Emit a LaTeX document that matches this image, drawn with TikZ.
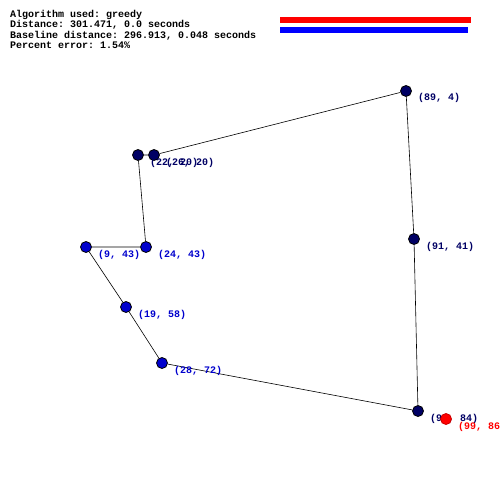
\documentclass[tikz,border=0pt]{standalone}
\usepackage{fontspec}
\setmonofont{Liberation Mono}
\usepackage{tikz}
\usepackage{xcolor}
\usetikzlibrary{positioning}

\definecolor{navypt}{RGB}{0,0,100}
\definecolor{bluept}{RGB}{0,0,205}

\begin{document}
\begin{tikzpicture}[x=1pt,y=-1pt]
\tikzset{
  every node/.style={inner sep=0pt},
  navydot/.style={circle,draw=black,fill=navypt,minimum size=11pt,line width=0.8pt},
  bluedot/.style={circle,draw=black,fill=bluept,minimum size=11pt,line width=0.8pt},
  reddot/.style={circle,draw=red!80!black,fill=red,minimum size=11pt,line width=0.8pt},
  tag/.style={anchor=base west,font=\ttfamily\bfseries\fontsize{10}{10}\selectfont},
  head/.style={tag,text=black},
  tour/.style={black,line width=0.6pt}
}
\useasboundingbox (0,0) rectangle (500,500);
% header
\node[head] (head1) at (10,17.5) {Algorithm used: greedy};
\node[head] (head2) at (10,28) {Distance: 301.471, 0.0 seconds};
\node[head] (head3) at (10,38.5) {Baseline distance: 296.913, 0.048 seconds};
\node[head] (head4) at (10,49) {Percent error: 1.54\%};
\fill [red] (280,17) rectangle (471,23);
\fill [blue] (280,27) rectangle (468,33);
% visited
\node[navydot] (p1) at (406,91) {};
\node[navydot] (p2) at (154,155) {};
\node[navydot] (p3) at (138,155) {};
\node[navydot] (p8) at (418,411) {};
\node[navydot] (p9) at (414,239) {};
% open
\node[bluedot] (p4) at (146,247) {};
\node[bluedot] (p5) at (86,247) {};
\node[bluedot] (p6) at (126,307) {};
\node[bluedot] (p7) at (162,363) {};
% tour
\draw [tour] (p1) -- (p2) -- (p3) -- (p4) -- (p5) -- (p6) -- (p7) -- (p8) -- (p9) -- (p1);
% labels
\node[tag,text=navypt] (t1) at ([xshift=12pt,yshift=-10pt]p1.center) {(89, 4)};
\node[tag,text=navypt] (t3) at ([xshift=12pt,yshift=-10pt]p3.center) {(22, 20)};
\node[tag,text=navypt] (t2) at ([xshift=12pt,yshift=-10pt]p2.center) {(26, 20)};
\node[tag,text=navypt] (t9) at ([xshift=12pt,yshift=-10pt]p9.center) {(91, 41)};
\node[tag,text=navypt] (t8) at ([xshift=12pt,yshift=-10pt]p8.center) {(92, 84)};
\node[tag,text=bluept] (t4) at ([xshift=12pt,yshift=-10pt]p4.center) {(24, 43)};
\node[tag,text=bluept] (t5) at ([xshift=12pt,yshift=-10pt]p5.center) {(9, 43)};
\node[tag,text=bluept] (t6) at ([xshift=12pt,yshift=-10pt]p6.center) {(19, 58)};
\node[tag,text=bluept] (t7) at ([xshift=12pt,yshift=-10pt]p7.center) {(28, 72)};
% current
\node[reddot] (p10) at (446,419) {};
\node[tag,text=red] (t10) at ([xshift=12pt,yshift=-10pt]p10.center) {(99, 86)};
\end{tikzpicture}
\end{document}
